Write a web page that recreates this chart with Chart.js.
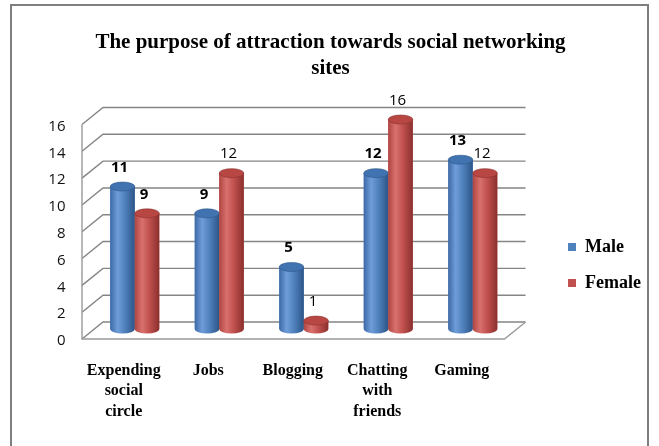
<!DOCTYPE html>
<html>
<head>
<meta charset="utf-8">
<script src="https://cdn.jsdelivr.net/npm/chart.js@4.4.0/dist/chart.umd.min.js"></script>
<style>
  html, body { margin: 0; padding: 0; background: #fff; }
</style>
</head>
<body>
<canvas id="myChart" width="659" height="446"></canvas>
<script>
// data
const categories = [["Expending", "social", "circle"], "Jobs", "Blogging", ["Chatting", "with", "friends"], "Gaming"];
const seriesNames = ["Male", "Female"];
const maleValues = [11, 9, 5, 12, 13];
const femaleValues = [9, 12, 1, 16, 12];
const yMin = 0;
const yMax = 16;
const yStep = 2;
const titleLines = ["The purpose of attraction towards social networking", "sites"];

// look of the cylinders
const palettes = [
    {edge: "#3d6aa6", light: "#6f9dd9", mid: "#4f81bd", dark: "#2d5588", top: "#4273b1"},
    {edge: "#b04541", light: "#d8716e", mid: "#c0504d", dark: "#8a302e", top: "#b84744"}
];
const boldLabels = [[true, true, true, true, true], [true, false, false, false, false]];
const depthX = 10.5;
const backDy = -12;
const frontDy = 5;

const frame3d = {
    id: "frame3d",
    beforeDraw(chart) {
        let ctx = chart.ctx;
        ctx.save();
        ctx.fillStyle = "#fff";
        ctx.fillRect(0, 0, chart.width, chart.height);
        ctx.strokeStyle = "#7f7f7f";
        ctx.lineWidth = 2;
        ctx.strokeRect(11, 5, 637, 470);
        ctx.restore();
    },
    beforeDatasetsDraw(chart) {
        let ctx = chart.ctx;
        let a = chart.chartArea;
        let y = chart.scales.y;
        ctx.save();
        ctx.strokeStyle = "#858585";
        ctx.lineWidth = 1.4;
        y.ticks.forEach((t) => {
            let py = y.getPixelForValue(t.value);
            ctx.beginPath();
            ctx.moveTo(a.left - depthX, py + frontDy);
            ctx.lineTo(a.left + depthX, py + backDy);
            ctx.lineTo(a.right + depthX, py + backDy);
            ctx.stroke();
        });
        let top = y.getPixelForValue(y.max);
        let zero = y.getPixelForValue(y.min);
        ctx.strokeStyle = "#9a9a9a";
        ctx.beginPath();
        ctx.moveTo(a.left - depthX, top + frontDy);
        ctx.lineTo(a.left - depthX, zero + frontDy);
        ctx.lineTo(a.right - depthX, zero + frontDy);
        ctx.lineTo(a.right + depthX, zero + backDy);
        ctx.stroke();
        ctx.restore();
    }
};

const cylinders = {
    id: "cylinders",
    afterDatasetsDraw(chart) {
        let ctx = chart.ctx;
        chart.data.datasets.forEach((ds, di) => {
            let pal = palettes[di];
            chart.getDatasetMeta(di).data.forEach((bar, i) => {
                let p = bar.getProps(["x", "y", "width", "base"], true);
                let rx = p.width / 2;
                let ry = 4.5;
                let l = p.x - rx;
                let r = p.x + rx;
                let g = ctx.createLinearGradient(l, 0, r, 0);
                g.addColorStop(0, pal.edge);
                g.addColorStop(0.3, pal.light);
                g.addColorStop(0.6, pal.mid);
                g.addColorStop(1, pal.dark);
                ctx.save();
                ctx.fillStyle = g;
                ctx.beginPath();
                ctx.moveTo(l, p.y);
                ctx.lineTo(l, p.base);
                ctx.ellipse(p.x, p.base, rx, ry, 0, Math.PI, 0, true);
                ctx.lineTo(r, p.y);
                ctx.closePath();
                ctx.fill();
                ctx.beginPath();
                ctx.ellipse(p.x, p.y, rx, ry, 0, 0, Math.PI * 2);
                ctx.fillStyle = pal.top;
                ctx.fill();
                ctx.strokeStyle = pal.dark;
                ctx.lineWidth = 0.6;
                ctx.stroke();

                // value label
                ctx.fillStyle = "#000";
                ctx.font = (boldLabels[di][i] ? "bold " : "") + "15px 'Open Sans'";
                ctx.textAlign = "center";
                ctx.textBaseline = "middle";
                ctx.fillText(String(ds.data[i]), p.x - 3, p.y - 19);
                ctx.restore();
            });
        });
    }
};

new Chart(document.getElementById("myChart"), {
    type: "bar",
    data: {
        labels: categories,
        datasets: [
            {label: seriesNames[0], data: maleValues, backgroundColor: palettes[0].mid, borderWidth: 0, base: 0.37},
            {label: seriesNames[1], data: femaleValues, backgroundColor: palettes[1].mid, borderWidth: 0, base: 0.37}
        ]
    },
    options: {
        responsive: false,
        animation: false,
        events: [],
        categoryPercentage: 0.58,
        barPercentage: 1,
        layout: {padding: {left: 10, right: 8, top: 0, bottom: 0}},
        scales: {
            x: {
                grid: {display: false, drawTicks: false},
                border: {display: false},
                ticks: {
                    color: "#000",
                    padding: 26,
                    labelOffset: -11,
                    maxRotation: 0,
                    autoSkip: false,
                    font: {family: "'Liberation Serif'", size: 16, weight: "bold", lineHeight: 1.3}
                },
                afterFit(scale) {
                    scale.height = 112;
                }
            },
            y: {
                min: yMin,
                max: yMax,
                grid: {display: false, drawTicks: false},
                border: {display: false},
                ticks: {
                    stepSize: yStep,
                    color: "#111",
                    padding: 27,
                    labelOffset: 7,
                    font: {family: "'Open Sans'", size: 15}
                },
                afterFit(scale) {
                    scale.width = 82.5;
                }
            },
            yR: {
                type: "linear",
                position: "right",
                grid: {display: false, drawTicks: false},
                border: {display: false},
                ticks: {display: false},
                afterFit(scale) {
                    scale.width = 35;
                }
            }
        },
        plugins: {
            title: {
                display: true,
                text: titleLines,
                color: "#000",
                font: {family: "'Liberation Serif'", size: 21, weight: "bold", lineHeight: 1.25},
                padding: {top: 29, bottom: 38}
            },
            legend: {
                position: "right",
                title: {
                    display: true,
                    text: " ",
                    font: {size: 10, lineHeight: 1},
                    padding: {top: 74, bottom: 0}
                },
                labels: {
                    color: "#000",
                    boxWidth: 8,
                    boxHeight: 8,
                    padding: 18,
                    font: {family: "'Liberation Serif'", size: 18, weight: "bold"}
                }
            },
            tooltip: {enabled: false}
        }
    },
    plugins: [frame3d, cylinders]
});
</script>
</body>
</html>
